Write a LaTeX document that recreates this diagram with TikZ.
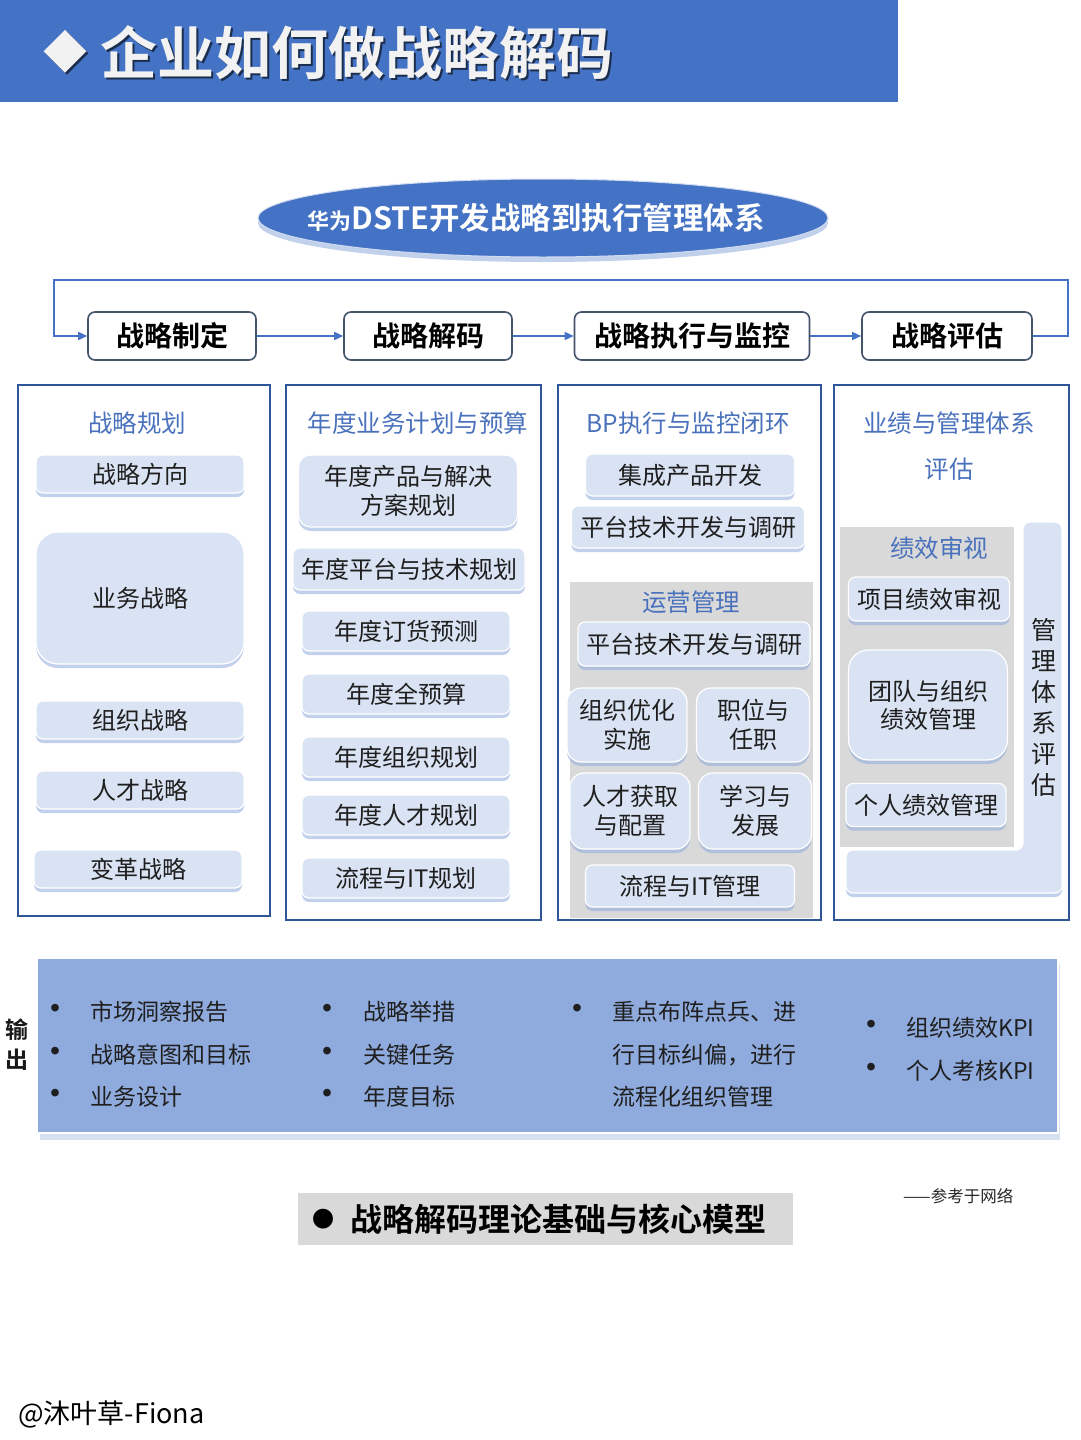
\documentclass[tikz,border=0pt]{standalone}
\usepackage{fontspec}
\setmainfont{Noto Sans CJK SC}[BoldFont={Noto Sans CJK SC Bold}]
\usetikzlibrary{shapes.geometric,arrows.meta,shadows}
\definecolor{tblue}{HTML}{4472C4}
\definecolor{headblue}{HTML}{4A72BC}
\definecolor{phaseborder}{HTML}{44546A}
\definecolor{framec}{HTML}{2F5597}
\definecolor{cellfill}{HTML}{DAE3F3}
\definecolor{shadowblue}{HTML}{8FAADC}
\definecolor{grayfill}{HTML}{D9D9D9}
\definecolor{outfill}{HTML}{8FAADC}
\newcommand{\myfs}[2]{\fontsize{#1}{#2}\selectfont}
\begin{document}
\begin{tikzpicture}[x=1pt,y=-1pt,
  cell/.style={fill=cellfill, draw=white, line width=1.2pt, rounded corners=7pt,
    inner sep=0pt, align=center, text=black!88, font={\myfs{24}{29}},
    drop shadow={shadow xshift=0pt, shadow yshift=-4pt, fill=shadowblue, opacity=0.55}},
  phase/.style={draw=phaseborder, fill=white, line width=1.6pt, rounded corners=7pt,
    minimum height=48, inner sep=0pt, font={\bfseries\myfs{28}{28}}},
  flow/.style={draw=tblue, line width=1.5pt, -{Triangle[length=9pt,width=8pt]}},
  frame/.style={draw=framec, line width=1.8pt, fill=white},
  head/.style={text=headblue, inner sep=0pt, align=center, font={\myfs{24.5}{46}}},
  otext/.style={anchor=west, inner sep=0pt, text=black!88, font={\myfs{23}{23}}},
  bul/.style={inner sep=0pt, text=black!88, font={\bfseries\myfs{30}{30}}}
]
% canvas
\fill[white] (0,0) rectangle (1080,1440);
\useasboundingbox (0,0) rectangle (1080,1440);

% title bar
\fill[tblue] (0,0) rectangle (898,102);
\node[inner sep=0pt, text=black!60!tblue, font={\myfs{44}{44}}] (dms) at (67,54) {◆};
\node[inner sep=0pt, text=white!95!black, font={\myfs{44}{44}}] (dm) at (65,52) {◆};
\node[anchor=west, inner sep=0pt, text=black!60!tblue, font={\bfseries\myfs{57}{57}}] (ttls) at (102,55) {企业如何做战略解码};
\node[anchor=west, inner sep=0pt, text=white!95!black, font={\bfseries\myfs{57}{57}}] (ttl) at (100,53) {企业如何做战略解码};

% ellipse
\fill[shadowblue, opacity=0.55] (543,223) ellipse (285 and 39);
\fill[tblue] (543,218) ellipse (285 and 39);
\draw[white!75!tblue, line width=1pt] (543,218) ellipse (285 and 39);
\node[inner sep=0pt, text=white] (ell) at (536,218)
  {\bfseries{\myfs{22}{22}华为}{\myfs{30.5}{30.5}DSTE开发战略到执行管理体系}};

% phases
\node[phase, minimum width=168] (zd) at (172,336) {战略制定};
\node[phase, minimum width=168] (jm) at (428,336) {战略解码};
\node[phase, minimum width=235] (zx) at (692,336) {战略执行与监控};
\node[phase, minimum width=170] (pg) at (947,336) {战略评估};
\draw[flow] (zd.east) -- (jm.west);
\draw[flow] (jm.east) -- (zx.west);
\draw[flow] (zx.east) -- (pg.west);
\coordinate (c1) at (1068,280);
\coordinate (c2) at (54,280);
\draw[flow] (pg.east) -| (c1) -- (c2) |- (zd.west);

% column frames
\draw[frame] (18,385) rectangle (270,916);
\draw[frame] (286,385) rectangle (541,920);
\draw[frame] (558,385) rectangle (821,920);
\draw[frame] (834,385) rectangle (1069,920);

% column 1
\node[head] (h1) at (137,423) {战略规划};
\node[cell, minimum width=208, minimum height=38] (a1) at (140,474) {战略方向};
\node[cell, minimum width=208, minimum height=132, rounded corners=22pt] (a2) at (140,598) {业务战略};
\node[cell, minimum width=208, minimum height=38] (a3) at (140,720) {组织战略};
\node[cell, minimum width=208, minimum height=38] (a4) at (140,790) {人才战略};
\node[cell, minimum width=208, minimum height=38] (a5) at (138,869) {变革战略};

% column 2
\node[head] (h2) at (418,423) {年度业务计划与预算};
\node[cell, minimum width=219, minimum height=72, rounded corners=12pt] (b1) at (408,491) {年度产品与解决\\方案规划};
\node[cell, minimum width=232, minimum height=42] (b2) at (409,569) {年度平台与技术规划};
\node[cell, minimum width=208, minimum height=40] (b3) at (406,631) {年度订货预测};
\node[cell, minimum width=208, minimum height=40] (b4) at (406,694) {年度全预算};
\node[cell, minimum width=208, minimum height=40] (b5) at (406,757) {年度组织规划};
\node[cell, minimum width=208, minimum height=40] (b6) at (406,815) {年度人才规划};
\node[cell, minimum width=208, minimum height=40] (b7) at (406,878) {流程与IT规划};

% column 3
\node[head] (h3) at (688,423) {BP执行与监控闭环};
\node[cell, minimum width=209, minimum height=42] (c31) at (690,475) {集成产品开发};
\node[cell, minimum width=233, minimum height=42] (c32) at (688,527) {平台技术开发与调研};
\fill[grayfill] (570,582) rectangle (813,918);
\node[head] (h3b) at (691,602) {运营管理};
\node[cell, minimum width=232, minimum height=44] (c33) at (694,644) {平台技术开发与调研};
\node[cell, minimum width=120, minimum height=74, rounded corners=14pt] (c34) at (627,725) {组织优化\\实施};
\node[cell, minimum width=113, minimum height=74, rounded corners=14pt] (c35) at (753,725) {职位与\\任职};
\node[cell, minimum width=120, minimum height=76, rounded corners=14pt] (c36) at (630,811) {人才获取\\与配置};
\node[cell, minimum width=113, minimum height=76, rounded corners=14pt] (c37) at (755,811) {学习与\\发展};
\node[cell, minimum width=209, minimum height=42] (c38) at (690,886) {流程与IT管理};

% column 4
\node[head] (h4) at (949,446) {业绩与管理体系\\评估};
\fill[grayfill] (840,527) rectangle (1014,847);
\path[fill=cellfill, draw=white, line width=1.2pt, rounded corners=7pt,
  drop shadow={shadow xshift=0pt, shadow yshift=-4pt, fill=shadowblue, opacity=0.55}]
  (1023,522) -- (1062,522) -- (1062,893) -- (846,893) -- (846,850) -- (1023,850) -- cycle;
\node[inner sep=0pt, align=center, text=black!88, font={\myfs{25}{31}}] (mg) at (1044,707) {管\\理\\体\\系\\评\\估};
\node[head] (h4b) at (939,548) {绩效审视};
\node[cell, minimum width=161, minimum height=44] (d1) at (929,599) {项目绩效审视};
\node[cell, minimum width=159, minimum height=110, rounded corners=20pt, font={\myfs{24}{28}}] (d2) at (928,705) {团队与组织\\绩效管理};
\node[cell, minimum width=160, minimum height=43] (d3) at (926,805) {个人绩效管理};

% output band
\fill[shadowblue, opacity=0.35] (40,964) rectangle (1060,1140);
\path[fill=outfill, draw=white, line width=2pt] (37,958) rectangle (1058,1133);
\node[inner sep=0pt, align=center, text=black!90, font={\bfseries\myfs{23}{30}}] (out) at (17,1045) {输\\出};

\node[bul] (ba1) at (55,1012) {•};
\node[otext] (ta1) at (90,1012) {市场洞察报告};
\node[bul] (ba2) at (55,1055) {•};
\node[otext] (ta2) at (90,1055) {战略意图和目标};
\node[bul] (ba3) at (55,1097) {•};
\node[otext] (ta3) at (90,1097) {业务设计};

\node[bul] (bb1) at (327,1012) {•};
\node[otext] (tb1) at (363,1012) {战略举措};
\node[bul] (bb2) at (327,1055) {•};
\node[otext] (tb2) at (363,1055) {关键任务};
\node[bul] (bb3) at (327,1097) {•};
\node[otext] (tb3) at (363,1097) {年度目标};

\node[bul] (bc1) at (577,1012) {•};
\node[otext] (tc1) at (612,1012) {重点布阵点兵、进};
\node[otext] (tc2) at (612,1055) {行目标纠偏，进行};
\node[otext] (tc3) at (612,1097) {流程化组织管理};

\node[bul] (bd1) at (871,1028) {•};
\node[otext] (td1) at (906,1028) {组织绩效KPI};
\node[bul] (bd2) at (871,1071) {•};
\node[otext] (td2) at (906,1071) {个人考核KPI};

% bottom caption
\fill[grayfill] (298,1193) rectangle (793,1245);
\node[inner sep=0pt, font={\myfs{22}{22}}] (dot) at (323,1219) {●};
\node[anchor=west, inner sep=0pt, font={\bfseries\myfs{32}{32}}] (cap) at (350,1219) {战略解码理论基础与核心模型};
\node[anchor=west, inner sep=0pt, text=black!85, font={\myfs{16.5}{16.5}}] (ref) at (903,1196) {——参考于网络};

\node[anchor=west, inner sep=0pt, font={\myfs{27}{27}}] (sig) at (18,1414) {@沐叶草-Fiona};
\end{tikzpicture}
\end{document}
